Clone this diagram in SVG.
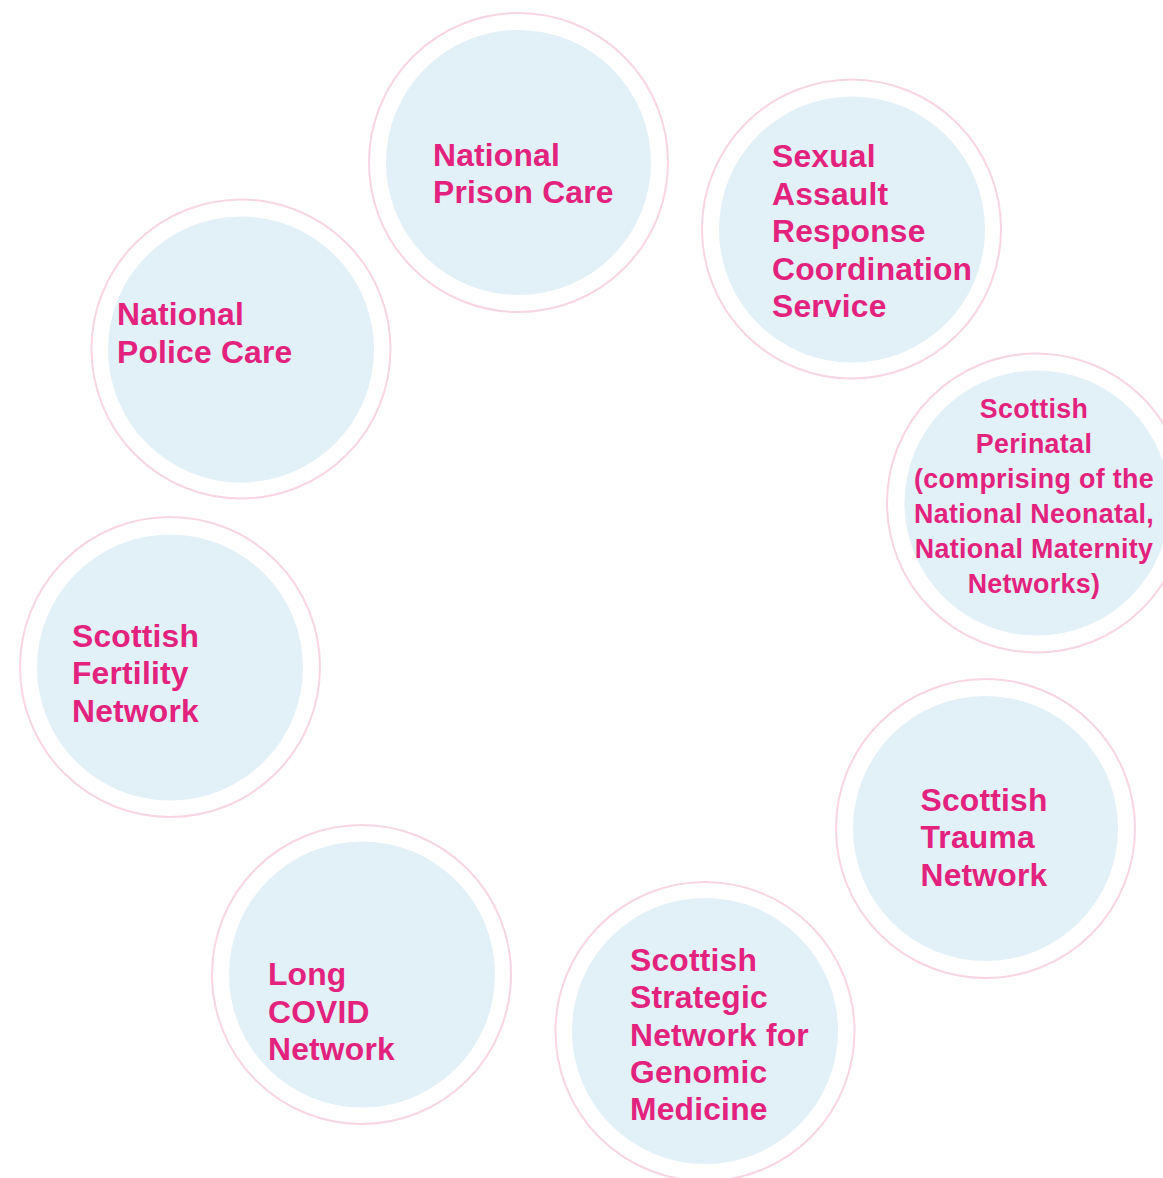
<svg xmlns="http://www.w3.org/2000/svg" width="1163" height="1178" viewBox="0 0 1163 1178">
<style>
.ring{fill:#ffffff;stroke:#f8d5e4;stroke-width:2}
.core{fill:#e2f0f8}
.t{font-family:"Liberation Sans",Arial,sans-serif;font-weight:bold;font-size:31.8px;letter-spacing:0.2px;fill:#e3227e}
.s{font-family:"Liberation Sans",Arial,sans-serif;font-weight:bold;font-size:26.8px;letter-spacing:0.35px;fill:#e3227e;text-anchor:middle}
</style>
<rect width="1163" height="1178" fill="#ffffff"/>
<g id="connectors"></g>
<g id="prison">
<circle class="ring" cx="518.5" cy="162.5" r="149.5"/>
<circle class="core" cx="518.5" cy="162.5" r="132.5"/>
<text class="t" x="433" y="165.5">National</text>
<text class="t" x="433" y="202.5">Prison Care</text>
</g>
<g id="sexual">
<circle class="ring" cx="851.5" cy="229" r="149.5"/>
<circle class="core" cx="852" cy="229.5" r="133"/>
<text class="t" x="772" y="167">Sexual</text>
<text class="t" x="772" y="204.5">Assault</text>
<text class="t" x="772" y="242">Response</text>
<text class="t" x="772" y="279.5">Coordination</text>
<text class="t" x="772" y="317">Service</text>
</g>
<g id="police">
<circle class="ring" cx="241" cy="349" r="149.5"/>
<circle class="core" cx="241" cy="349.5" r="133"/>
<text class="t" x="117" y="325">National</text>
<text class="t" x="117" y="362.5">Police Care</text>
</g>
<g id="perinatal">
<circle class="ring" cx="1036.5" cy="503" r="149.5"/>
<circle class="core" cx="1037" cy="503" r="132.5"/>
<text class="s" x="1034" y="418">Scottish</text>
<text class="s" x="1034" y="453">Perinatal</text>
<text class="s" x="1034" y="488">(comprising of the</text>
<text class="s" x="1034" y="522.5">National Neonatal,</text>
<text class="s" x="1034" y="557.5">National Maternity</text>
<text class="s" x="1034" y="593">Networks)</text>
</g>
<g id="fertility">
<circle class="ring" cx="170" cy="667" r="150"/>
<circle class="core" cx="170" cy="667.5" r="133"/>
<text class="t" x="72" y="647">Scottish</text>
<text class="t" x="72" y="684">Fertility</text>
<text class="t" x="72" y="721.5">Network</text>
</g>
<g id="trauma">
<circle class="ring" cx="985.5" cy="828.5" r="149.5"/>
<circle class="core" cx="985.5" cy="828.5" r="132.5"/>
<text class="t" x="920.5" y="811">Scottish</text>
<text class="t" x="920.5" y="848">Trauma</text>
<text class="t" x="920.5" y="885.5">Network</text>
</g>
<g id="genomic">
<circle class="ring" cx="705" cy="1031.5" r="149.5"/>
<circle class="core" cx="705" cy="1031" r="133"/>
<text class="t" x="630" y="971">Scottish</text>
<text class="t" x="630" y="1008">Strategic</text>
<text class="t" x="630" y="1045.5">Network for</text>
<text class="t" x="630" y="1083">Genomic</text>
<text class="t" x="630" y="1119.5">Medicine</text>
</g>
<g id="longcovid">
<circle class="ring" cx="361.5" cy="974.5" r="149.5"/>
<circle class="core" cx="362" cy="974.5" r="133"/>
<text class="t" x="268" y="985">Long</text>
<text class="t" x="268" y="1022.5">COVID</text>
<text class="t" x="268" y="1060">Network</text>
</g>
</svg>
